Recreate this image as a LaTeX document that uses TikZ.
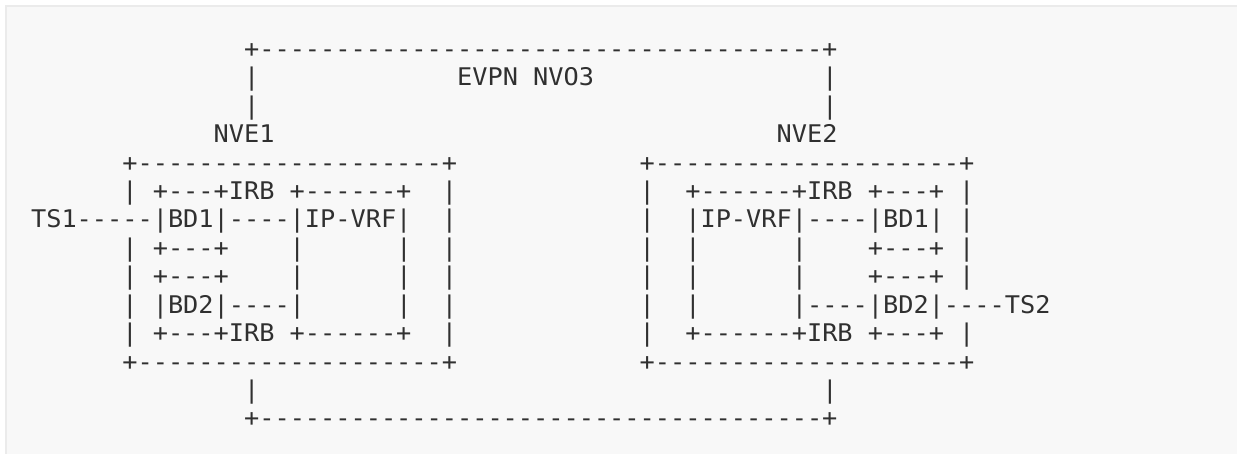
\documentclass[tikz,border=0pt]{standalone}
\usepackage{fontspec}
\newfontfamily\asciifont[FakeStretch=1.04]{DejaVu Sans Mono}
\definecolor{panelbg}{HTML}{F8F8F8}
\definecolor{panelrule}{HTML}{EBEBEB}
\definecolor{inkcol}{HTML}{303030}
\begin{document}
\begin{tikzpicture}[x=1pt,y=1pt,
  asciiline/.style={anchor=base west,inner sep=0pt,outer sep=0pt,text=inkcol,
    font=\asciifont\fontsize{24.3pt}{28.4pt}\selectfont}]
\useasboundingbox (0,0) rectangle (1237,453);
\clip (0,0) rectangle (1237,453);
\fill[white] (0,0) rectangle (1237,453);
\filldraw[fill=panelbg,draw=panelrule,line width=2pt] (6,-10) rectangle (1250,447);
% column c starts at x = 31.1 + 15.215 c ; row r baseline at y = 453 - (57.6 + 28.4 r)
\newcommand{\cx}[1]{31.1+15.215*#1}
\newcommand{\ry}[1]{453-57.6-28.4*#1}
\node[asciiline] (l0)  at ({\cx{14}},{\ry{0}})  {+-------------------------------------+};
\node[asciiline] (l1a) at ({\cx{14}},{\ry{1}})  {|};
\node[asciiline] (l1b) at ({\cx{28}},{\ry{1}})  {EVPN NVO3};
\node[asciiline] (l1c) at ({\cx{52}},{\ry{1}})  {|};
\node[asciiline] (l2a) at ({\cx{14}},{\ry{2}})  {|};
\node[asciiline] (l2c) at ({\cx{52}},{\ry{2}})  {|};
\node[asciiline] (nve1) at ({\cx{12}},{\ry{3}}) {NVE1};
\node[asciiline] (nve2) at ({\cx{49}},{\ry{3}}) {NVE2};
\node[asciiline] (l4a) at ({\cx{6}},{\ry{4}})   {+--------------------+};
\node[asciiline] (l4b) at ({\cx{40}},{\ry{4}})  {+--------------------+};
\node[asciiline] (l5a) at ({\cx{6}},{\ry{5}})   {|~+---+IRB~+------+~~|};
\node[asciiline] (l5b) at ({\cx{40}},{\ry{5}})  {|~~+------+IRB~+---+~|};
\node[asciiline] (l6a) at ({\cx{0}},{\ry{6}})   {TS1-----|BD1|----|IP-VRF|~~|};
\node[asciiline] (l6b) at ({\cx{40}},{\ry{6}})  {|~~|IP-VRF|----|BD1|~|};
\node[asciiline] (l7a) at ({\cx{6}},{\ry{7}})   {|~+---+~~~~|~~~~~~|~~|};
\node[asciiline] (l7b) at ({\cx{40}},{\ry{7}})  {|~~|~~~~~~|~~~~+---+~|};
\node[asciiline] (l8a) at ({\cx{6}},{\ry{8}})   {|~+---+~~~~|~~~~~~|~~|};
\node[asciiline] (l8b) at ({\cx{40}},{\ry{8}})  {|~~|~~~~~~|~~~~+---+~|};
\node[asciiline] (l9a) at ({\cx{6}},{\ry{9}})   {|~|BD2|----|~~~~~~|~~|};
\node[asciiline] (l9b) at ({\cx{40}},{\ry{9}})  {|~~|~~~~~~|----|BD2|----TS2};
\node[asciiline] (l10a) at ({\cx{6}},{\ry{10}}) {|~+---+IRB~+------+~~|};
\node[asciiline] (l10b) at ({\cx{40}},{\ry{10}}) {|~~+------+IRB~+---+~|};
\node[asciiline] (l11a) at ({\cx{6}},{\ry{11}}) {+--------------------+};
\node[asciiline] (l11b) at ({\cx{40}},{\ry{11}}) {+--------------------+};
\node[asciiline] (l12a) at ({\cx{14}},{\ry{12}}) {|};
\node[asciiline] (l12c) at ({\cx{52}},{\ry{12}}) {|};
\node[asciiline] (l13) at ({\cx{14}},{\ry{13}}) {+-------------------------------------+};
\end{tikzpicture}
\end{document}
